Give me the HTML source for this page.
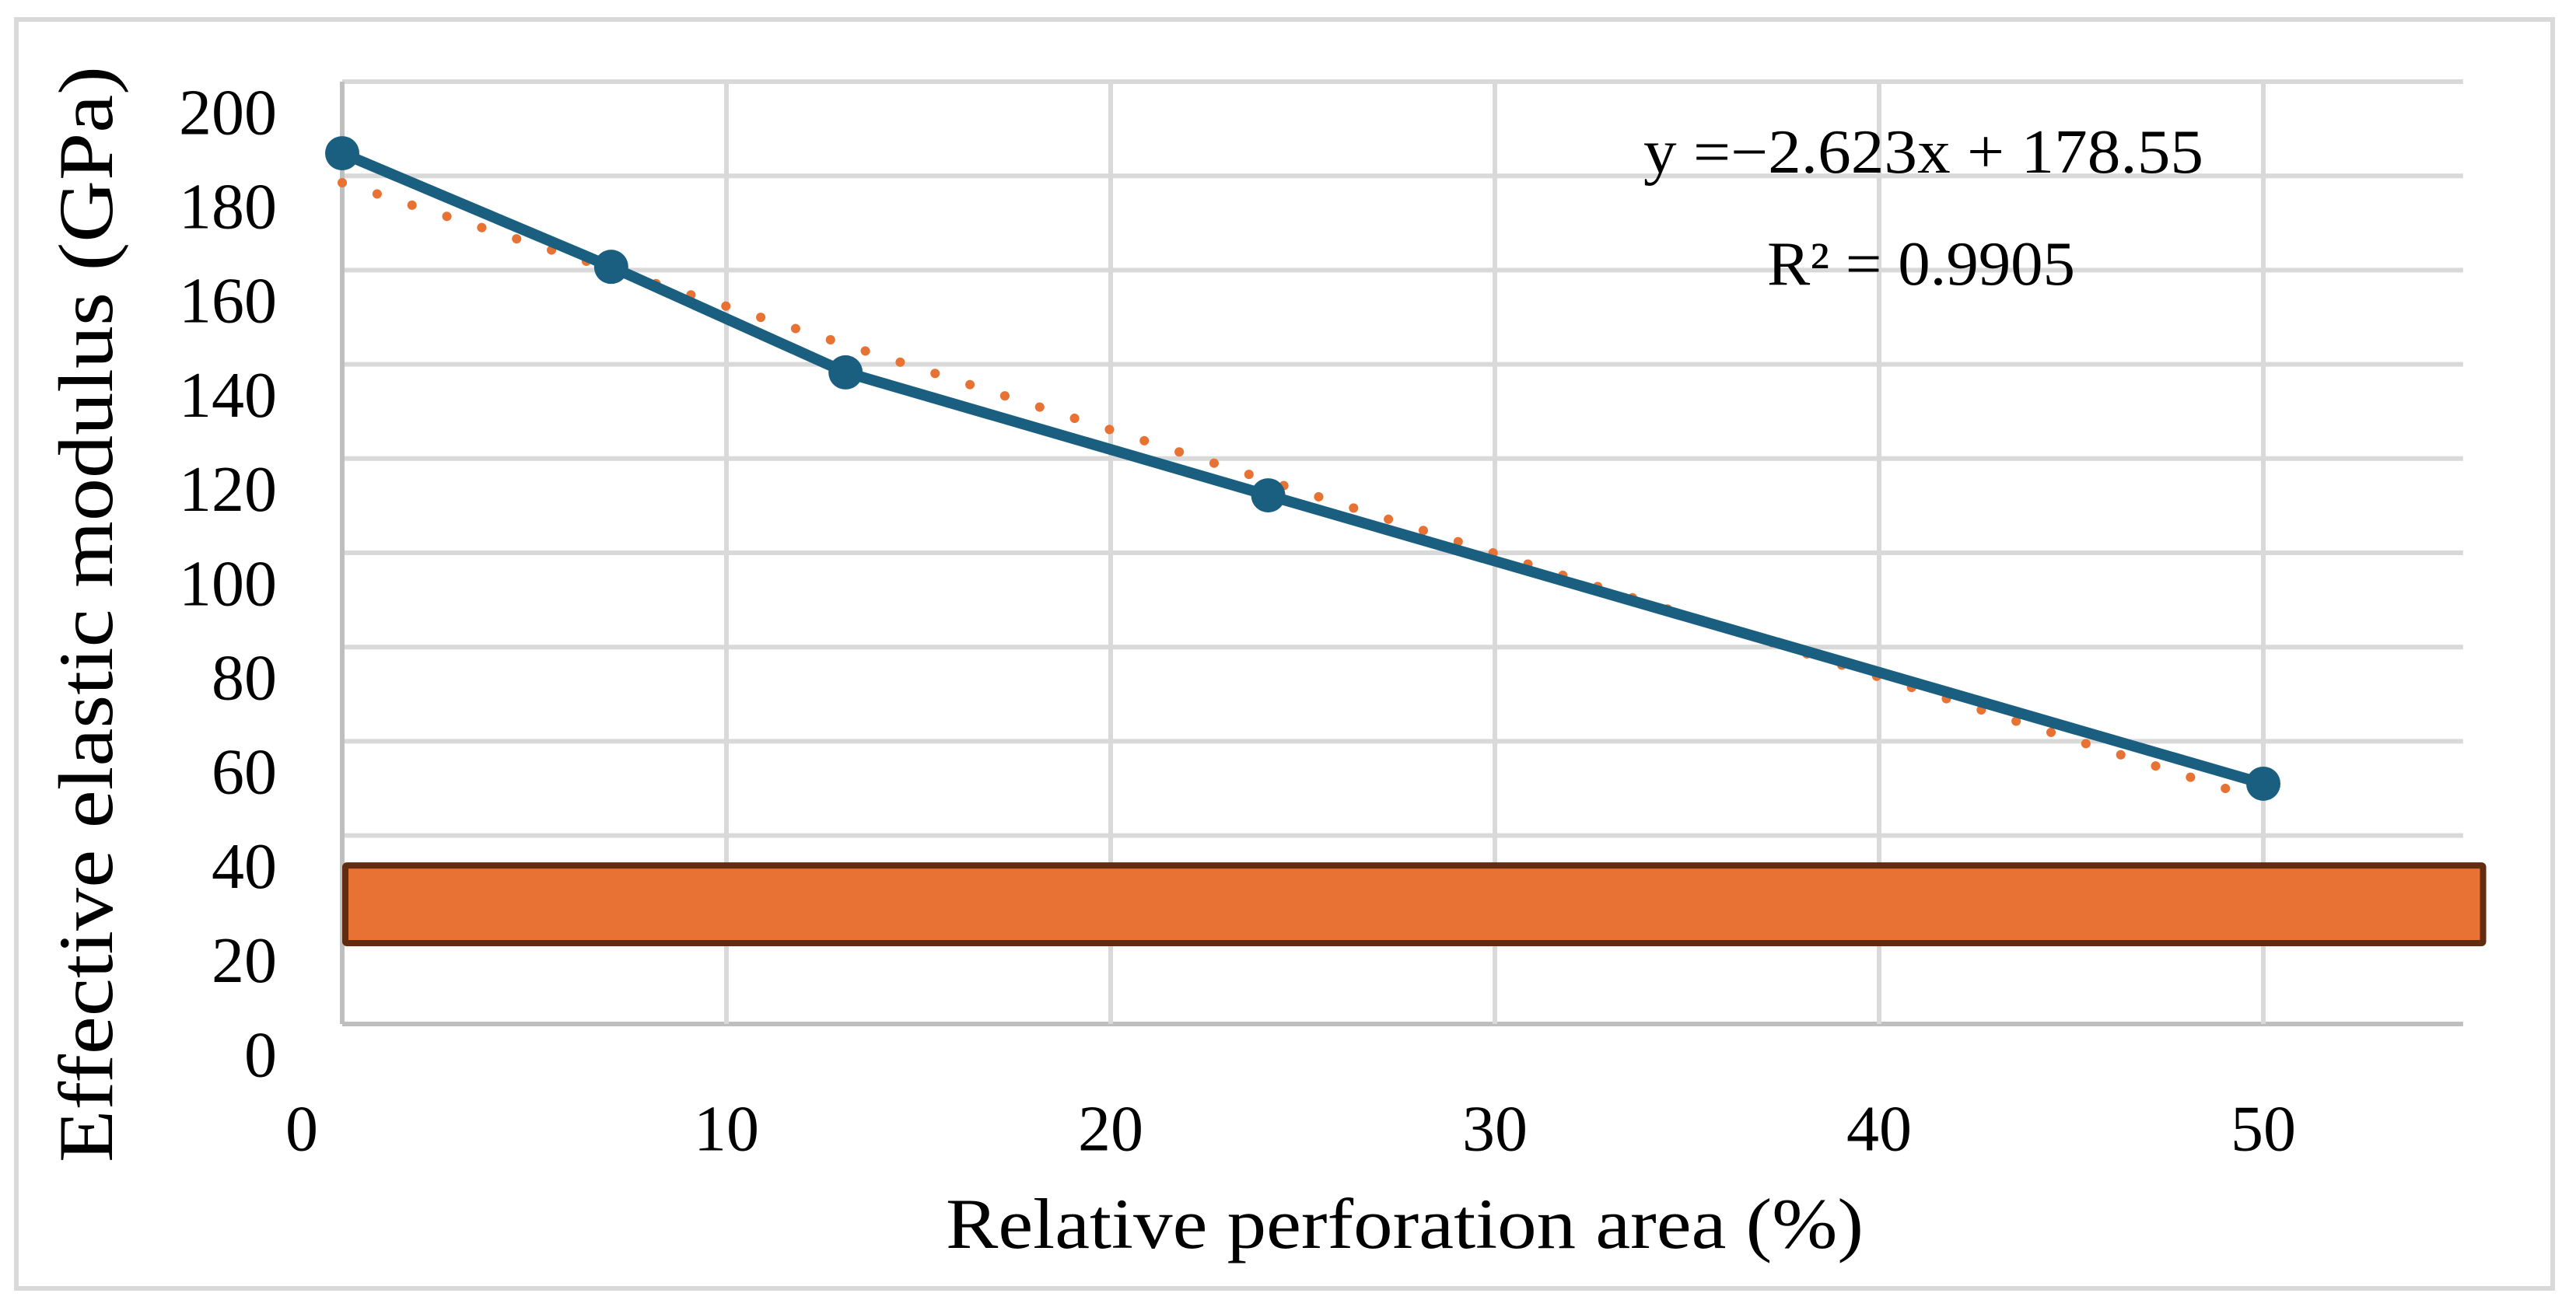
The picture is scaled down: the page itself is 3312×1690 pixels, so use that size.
<!DOCTYPE html>
<html><head><meta charset="utf-8"><style>
html,body{margin:0;padding:0;background:#fff;}
svg{display:block;font-family:"Liberation Serif",serif;}
</style></head><body>
<svg id="chart" width="3312" height="1690" viewBox="0 0 3312 1690" xmlns="http://www.w3.org/2000/svg">
<rect x="21" y="25" width="3261" height="1632" fill="#fff" stroke="#d9d9d9" stroke-width="6"/>
<g id="grid"></g>
<g id="bars"></g>
<g id="trend"></g>
<g id="series"></g>
<g id="labels"></g>
<text transform="translate(121,790) rotate(-90)" text-anchor="middle" dominant-baseline="middle" font-size="100" textLength="1410" lengthAdjust="spacingAndGlyphs">Effective elastic modulus (GPa)</text>
<text x="1806" y="1584" text-anchor="middle" dominant-baseline="middle" font-size="92" textLength="1180" lengthAdjust="spacingAndGlyphs">Relative perforation area (%)</text>
<text x="2113" y="222" font-size="80" textLength="720" lengthAdjust="spacingAndGlyphs">y =−2.623x + 178.55</text>
<text x="2272" y="366" font-size="80" textLength="396" lengthAdjust="spacingAndGlyphs">R² = 0.9905</text>
</svg>
<script>
const xVals = [0, 7, 13.1, 24.1, 50];
const yVals = [184.8, 160.7, 138.3, 112.2, 51.0];
const yTicks = [0, 20, 40, 60, 80, 100, 120, 140, 160, 180, 200];
const xTicks = [0, 10, 20, 30, 40, 50];
const trendSlope = [-2.623];
const trendIntercept = [178.55];
const trendRange = [0, 49.5];
const bandRange = [16.5, 34.3];
const bandX = [0, 55.8];

const NS = "http://www.w3.org/2000/svg";
const X0 = 440, PX = 49.4, Y0 = 1317, PY = 6.06;
const xs = v => X0 + v * PX;
const ys = v => Y0 - v * PY;
const xMax = 55.2;
function mk(tag, attrs, parent) {
  const e = document.createElementNS(NS, tag);
  for (const k in attrs) e.setAttribute(k, attrs[k]);
  document.getElementById(parent).appendChild(e);
  return e;
}
yTicks.forEach(v => {
  const l = mk('line', {x1: X0, x2: xs(xMax), y1: ys(v), y2: ys(v), stroke: v === 0 ? '#bfbfbf' : '#d9d9d9', 'stroke-width': 6}, 'grid');
  
  
  const t = mk('text', {x: 356, y: ys(v) + 48, 'text-anchor': 'end', 'dominant-baseline': 'middle', 'font-size': 84}, 'labels');
  t.textContent = v;
  
  
});
xTicks.forEach(v => {
  const l = mk('line', {x1: xs(v), x2: xs(v), y1: ys(200), y2: ys(0), stroke: v === 0 ? '#bfbfbf' : '#d9d9d9', 'stroke-width': 6}, 'grid');
  
  
  const t = mk('text', {x: xs(v) + (v === 0 ? -52 : 0), y: 1460, 'text-anchor': 'middle', 'dominant-baseline': 'middle', 'font-size': 84}, 'labels');
  t.textContent = v;
  
  
});
const band = mk('rect', {x: xs(bandX[0]) + 4, y: ys(bandRange[1]) + 4, width: xs(bandX[1]) - xs(bandX[0]) - 8, height: ys(bandRange[0]) - ys(bandRange[1]) - 8, fill: '#e87234', stroke: '#622c10', 'stroke-width': 8, rx: 2}, 'bars');


const tl = mk('line', {x1: xs(trendRange[0]), y1: ys(trendIntercept[0] + trendSlope[0] * trendRange[0]), x2: xs(trendRange[1]), y2: ys(trendIntercept[0] + trendSlope[0] * trendRange[1]), stroke: '#e87234', 'stroke-width': 12, 'stroke-linecap': 'round', 'stroke-dasharray': '0.1 47'}, 'trend');


const pts = xVals.map((x, i) => xs(x) + ',' + ys(yVals[i])).join(' ');
const pl = mk('polyline', {points: pts, fill: 'none', stroke: '#1a5f80', 'stroke-width': 14, 'stroke-linejoin': 'round'}, 'series');


xVals.forEach((x, i) => {
  const c = mk('circle', {cx: xs(x), cy: ys(yVals[i]), r: 22, fill: '#1a5f80'}, 'series');
  
  
});
</script>
</body></html>
